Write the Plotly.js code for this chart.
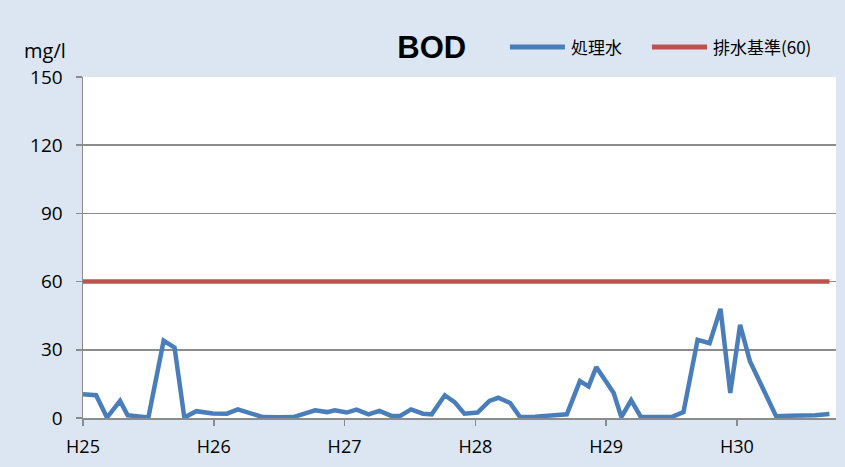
<!DOCTYPE html>
<html>
<head>
<meta charset="utf-8">
<script src="https://cdn.plot.ly/plotly-3.0.1.min.js"></script>
<style>html,body{margin:0;padding:0;background:#dce6f2;}#chart{width:845px;height:467px;}</style>
</head>
<body>
<div id="chart"></div>
<script>
// sampling positions (months since start of H25) and BOD values (mg/l)
const months = [0, 1.2, 2.2, 3.4, 4.1, 5.0, 6.0, 7.4, 8.4, 9.3, 10.4, 11.9,
  13.2, 14.2, 15.3, 16.5, 17.9, 19.3, 21.3, 22.4, 23.1,
  24.2, 25.1, 26.2, 27.2, 28.3, 29.1, 30.1, 31.2, 32.0, 33.2, 34.1, 35.0,
  36.2, 37.3, 38.1, 39.2, 40.1, 41.5, 42.9, 44.4, 45.6, 46.4, 47.1,
  48.7, 49.4, 50.3, 51.2, 52.6, 54.0, 55.1, 56.4, 57.5, 58.5, 59.4,
  60.3, 61.2, 63.6, 64.8, 66.1, 67.2, 68.5];
const treated = [10.4, 10, 0.2, 7.5, 1.2, 0.8, 0.2, 34, 31, 0.2, 3, 2,
  1.9, 3.8, 2.4, 0.4, 0.3, 0.4, 3.4, 2.6, 3.4,
  2.4, 3.7, 1.6, 3.1, 0.9, 0.9, 3.8, 1.9, 1.6, 10, 7, 1.9,
  2.4, 7.5, 8.9, 6.6, 0.4, 0.6, 1.0, 1.6, 16.2, 13.9, 22.4,
  11, 0.4, 7.8, 0.4, 0.5, 0.4, 2.6, 34.4, 32.9, 48, 11,
  41, 25, 0.8, 1.0, 1.0, 1.2, 1.8];
const standardValue = 60;
const standard = months.map(() => standardValue);
const seriesNames = ['処理水', '排水基準(60)'];
const seriesColors = ['#4a7ebb', '#c0504d'];
const yearTicks = [0, 12, 24, 36, 48, 60];
const yearLabels = ['H25', 'H26', 'H27', 'H28', 'H29', 'H30'];
const yTicks = [0, 30, 60, 90, 120, 150];

const jp = '"Noto Sans CJK JP", "Liberation Sans", sans-serif';
const latin = '"Open Sans", "Liberation Sans", sans-serif';
const data = [
  {x: months, y: treated, type: 'scatter', mode: 'lines', name: seriesNames[0],
   line: {color: seriesColors[0], width: 4.5}},
  {x: months, y: standard, type: 'scatter', mode: 'lines', name: seriesNames[1],
   line: {color: seriesColors[1], width: 4.5}}
];
// legend drawn in the header (paper coordinates)
const legendY = 1.088;
const legendItems = [
  {x0: 0.567, x1: 0.640, tx: 0.645},
  {x0: 0.7556, x1: 0.8287, tx: 0.834}
];
const shapes = legendItems.map((it, i) => ({type: 'line', xref: 'paper', yref: 'paper',
  x0: it.x0, x1: it.x1, y0: legendY, y1: legendY, line: {color: seriesColors[i], width: 5}}));
const annotations = legendItems.map((it, i) => ({text: seriesNames[i], xref: 'paper', yref: 'paper',
  x: it.tx, y: legendY, xanchor: 'left', yanchor: 'middle', showarrow: false,
  font: {family: jp, size: 17, color: '#000'}}));
annotations.push({text: 'mg/l', xref: 'paper', yref: 'paper', x: -0.0505, y: 1.079, xanchor: 'center', yanchor: 'middle',
  showarrow: false, font: {family: latin, size: 20, color: '#000'}});

const layout = {
  width: 845, height: 467,
  paper_bgcolor: '#dce6f2', plot_bgcolor: '#ffffff',
  margin: {l: 83, r: 9, t: 77, b: 49},
  font: {family: jp, color: '#000000'},
  title: {text: '<b>BOD</b>', font: {family: '"Liberation Sans", Arial, sans-serif', size: 31, color: '#000'},
    x: 0.511, xanchor: 'center', xref: 'container', y: 1 - 47/467, yanchor: 'middle', yref: 'container'},
  showlegend: false,
  xaxis: {range: [0, 69.1], tickvals: yearTicks, ticktext: yearLabels, showgrid: false, zeroline: false,
    showline: true, linecolor: '#8c8c8c', linewidth: 1.5, ticks: 'outside', ticklen: 6, tickcolor: '#8c8c8c', tickwidth: 1.5,
    ticklabelstandoff: 6,
    tickfont: {family: latin, size: 18, color: '#000'}, fixedrange: true},
  yaxis: {range: [0, 150], tickvals: yTicks, showgrid: true, gridcolor: '#8c8c8c', gridwidth: 1.5, zeroline: false,
    showline: true, linecolor: '#8c8c8c', linewidth: 1.5, ticks: 'outside', ticklen: 6, tickcolor: '#8c8c8c', tickwidth: 1.5,
    ticklabelstandoff: 9,
    tickfont: {family: latin, size: 19, color: '#000'}, fixedrange: true},
  shapes: shapes,
  annotations: annotations
};
Plotly.newPlot('chart', data, layout, {staticPlot: true, displayModeBar: false});
</script>
</body>
</html>
